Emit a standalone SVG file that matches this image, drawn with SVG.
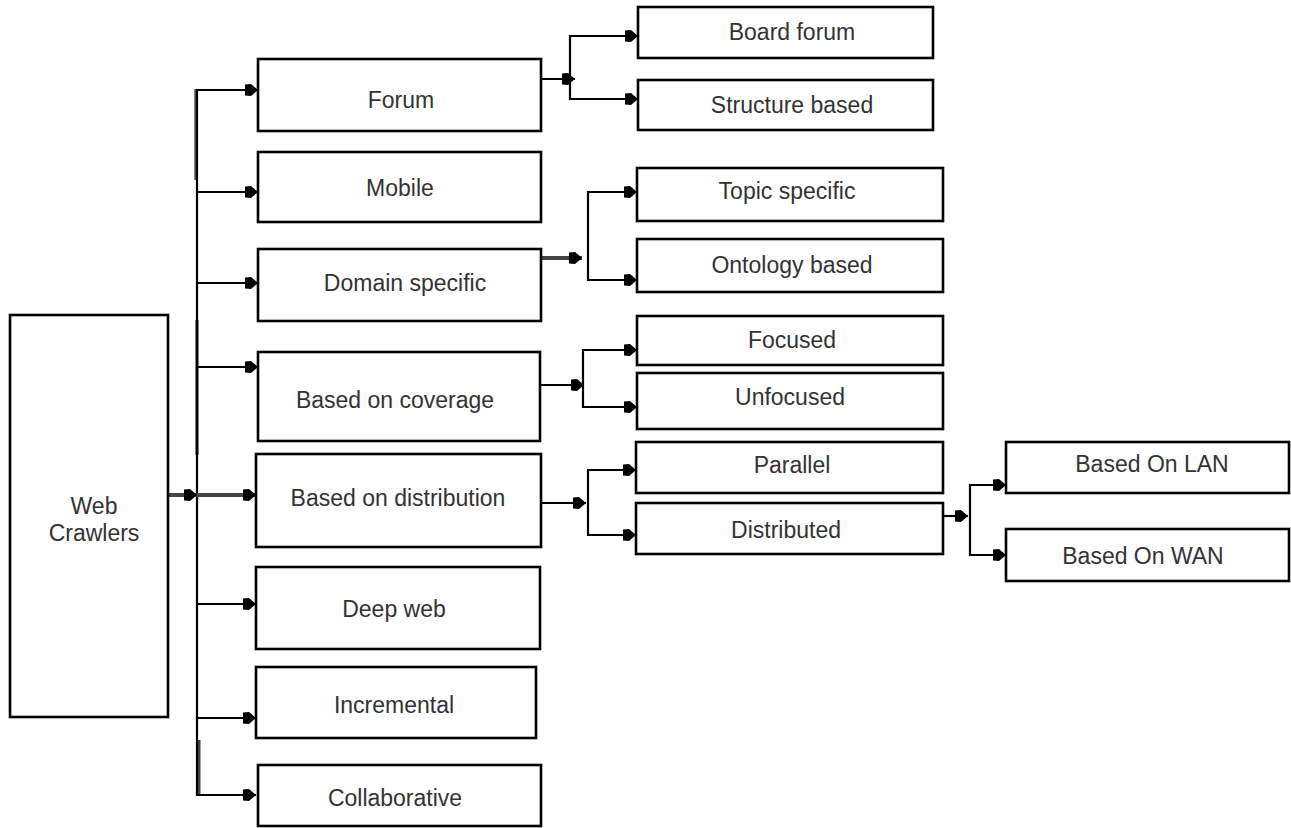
<svg xmlns="http://www.w3.org/2000/svg" width="1291" height="828" viewBox="0 0 1291 828">
<style>
.box{fill:#fff;stroke:#000;stroke-width:2.6}
.t{font-family:"Liberation Sans",Arial,sans-serif;font-size:23px;fill:#333;text-anchor:middle}
.c{fill:none;stroke:#000;stroke-width:2.2}
.g{fill:none;stroke:#444;stroke-width:4}
</style>
<defs>
<marker id="ah" markerUnits="userSpaceOnUse" markerWidth="14" markerHeight="14" refX="13" refY="7" orient="auto" viewBox="0 0 14 14">
<path d="M0,1.5 L6,1 L13,7 L6,13 L0,12.5 z" fill="#000"/>
</marker>
</defs>
<rect width="1291" height="828" fill="#fff"/>
<g id="connectors">
<path d="M196,89 V180" fill="none" stroke="#555" stroke-width="3.5"/>
<path d="M197,320 V455" fill="none" stroke="#666" stroke-width="3.5"/>
<path d="M199,740 V795" fill="none" stroke="#444" stroke-width="3"/>
<path class="c" d="M197,89 V795 H256" marker-end="url(#ah)"/>
<path class="c" d="M197,90 H258" marker-end="url(#ah)"/>
<path class="c" d="M197,192 H258" marker-end="url(#ah)"/>
<path class="c" d="M197,283 H258" marker-end="url(#ah)"/>
<path class="c" d="M197,367 H258" marker-end="url(#ah)"/>
<path class="g" d="M168,495 H197" marker-end="url(#ah)"/>
<path class="g" d="M197,495 H256" marker-end="url(#ah)"/>
<path class="c" d="M197,604 H256" marker-end="url(#ah)"/>
<path class="c" d="M197,718 H256" marker-end="url(#ah)"/>
<path class="c" d="M540,79 H575" marker-end="url(#ah)"/>
<path class="c" d="M638,36 H570 V99 H638" marker-end="url(#ah)"/>
<path class="c" d="M570,36 H638" marker-end="url(#ah)"/>
<path class="g" d="M540,258 H582" stroke-width="3" marker-end="url(#ah)"/>
<path class="c" d="M637,192 H588 V280 H637" marker-end="url(#ah)"/>
<path class="c" d="M588,192 H637" marker-end="url(#ah)"/>
<path class="c" d="M540,385 H584" marker-end="url(#ah)"/>
<path class="c" d="M637,350 H583 V407 H637" marker-end="url(#ah)"/>
<path class="c" d="M583,350 H637" marker-end="url(#ah)"/>
<path class="c" d="M541,503 H586" marker-end="url(#ah)"/>
<path class="c" d="M636,470 H588 V535 H636" stroke-width="2.6" marker-end="url(#ah)"/>
<path class="c" d="M588,470 H636" marker-end="url(#ah)"/>
<path class="c" d="M943,516 H968" marker-end="url(#ah)"/>
<path class="c" d="M1006,485 H970 V555 H1006" marker-end="url(#ah)"/>
<path class="c" d="M970,485 H1006" marker-end="url(#ah)"/>
</g>
<g id="web"><rect class="box" x="10" y="315" width="158" height="402"/><text class="t" x="94" y="514">Web</text><text class="t" x="94" y="541">Crawlers</text></g>
<g id="forum"><rect class="box" x="258" y="59" width="283" height="72"/><text class="t" x="401" y="108">Forum</text></g>
<g id="mobile"><rect class="box" x="258" y="152" width="283" height="70"/><text class="t" x="400" y="196">Mobile</text></g>
<g id="domain"><rect class="box" x="258" y="249" width="283" height="72"/><text class="t" x="405" y="291">Domain specific</text></g>
<g id="coverage"><rect class="box" x="258" y="352" width="282" height="89"/><text class="t" x="395" y="408">Based on coverage</text></g>
<g id="distribution"><rect class="box" x="256" y="454" width="285" height="93"/><text class="t" x="398" y="506">Based on distribution</text></g>
<g id="deepweb"><rect class="box" x="256" y="567" width="284" height="82"/><text class="t" x="394" y="617">Deep web</text></g>
<g id="incremental"><rect class="box" x="256" y="667" width="280" height="71"/><text class="t" x="394" y="713">Incremental</text></g>
<g id="collaborative"><rect class="box" x="258" y="765" width="283" height="61"/><text class="t" x="395" y="806">Collaborative</text></g>
<g id="board"><rect class="box" x="638" y="7" width="295" height="51"/><text class="t" x="792" y="40">Board forum</text></g>
<g id="structure"><rect class="box" x="638" y="80" width="295" height="50"/><text class="t" x="792" y="113">Structure based</text></g>
<g id="topic"><rect class="box" x="637" y="168" width="306" height="53"/><text class="t" x="787" y="199">Topic specific</text></g>
<g id="ontology"><rect class="box" x="637" y="239" width="306" height="53"/><text class="t" x="792" y="273">Ontology based</text></g>
<g id="focused"><rect class="box" x="637" y="316" width="306" height="49"/><text class="t" x="792" y="348">Focused</text></g>
<g id="unfocused"><rect class="box" x="637" y="373" width="306" height="56"/><text class="t" x="790" y="405">Unfocused</text></g>
<g id="parallel"><rect class="box" x="636" y="442" width="307" height="51"/><text class="t" x="792" y="473">Parallel</text></g>
<g id="distributed"><rect class="box" x="636" y="503" width="307" height="51"/><text class="t" x="786" y="538">Distributed</text></g>
<g id="lan"><rect class="box" x="1006" y="442" width="283" height="51"/><text class="t" x="1152" y="472">Based On LAN</text></g>
<g id="wan"><rect class="box" x="1006" y="529" width="283" height="52"/><text class="t" x="1143" y="564">Based On WAN</text></g>
</svg>
